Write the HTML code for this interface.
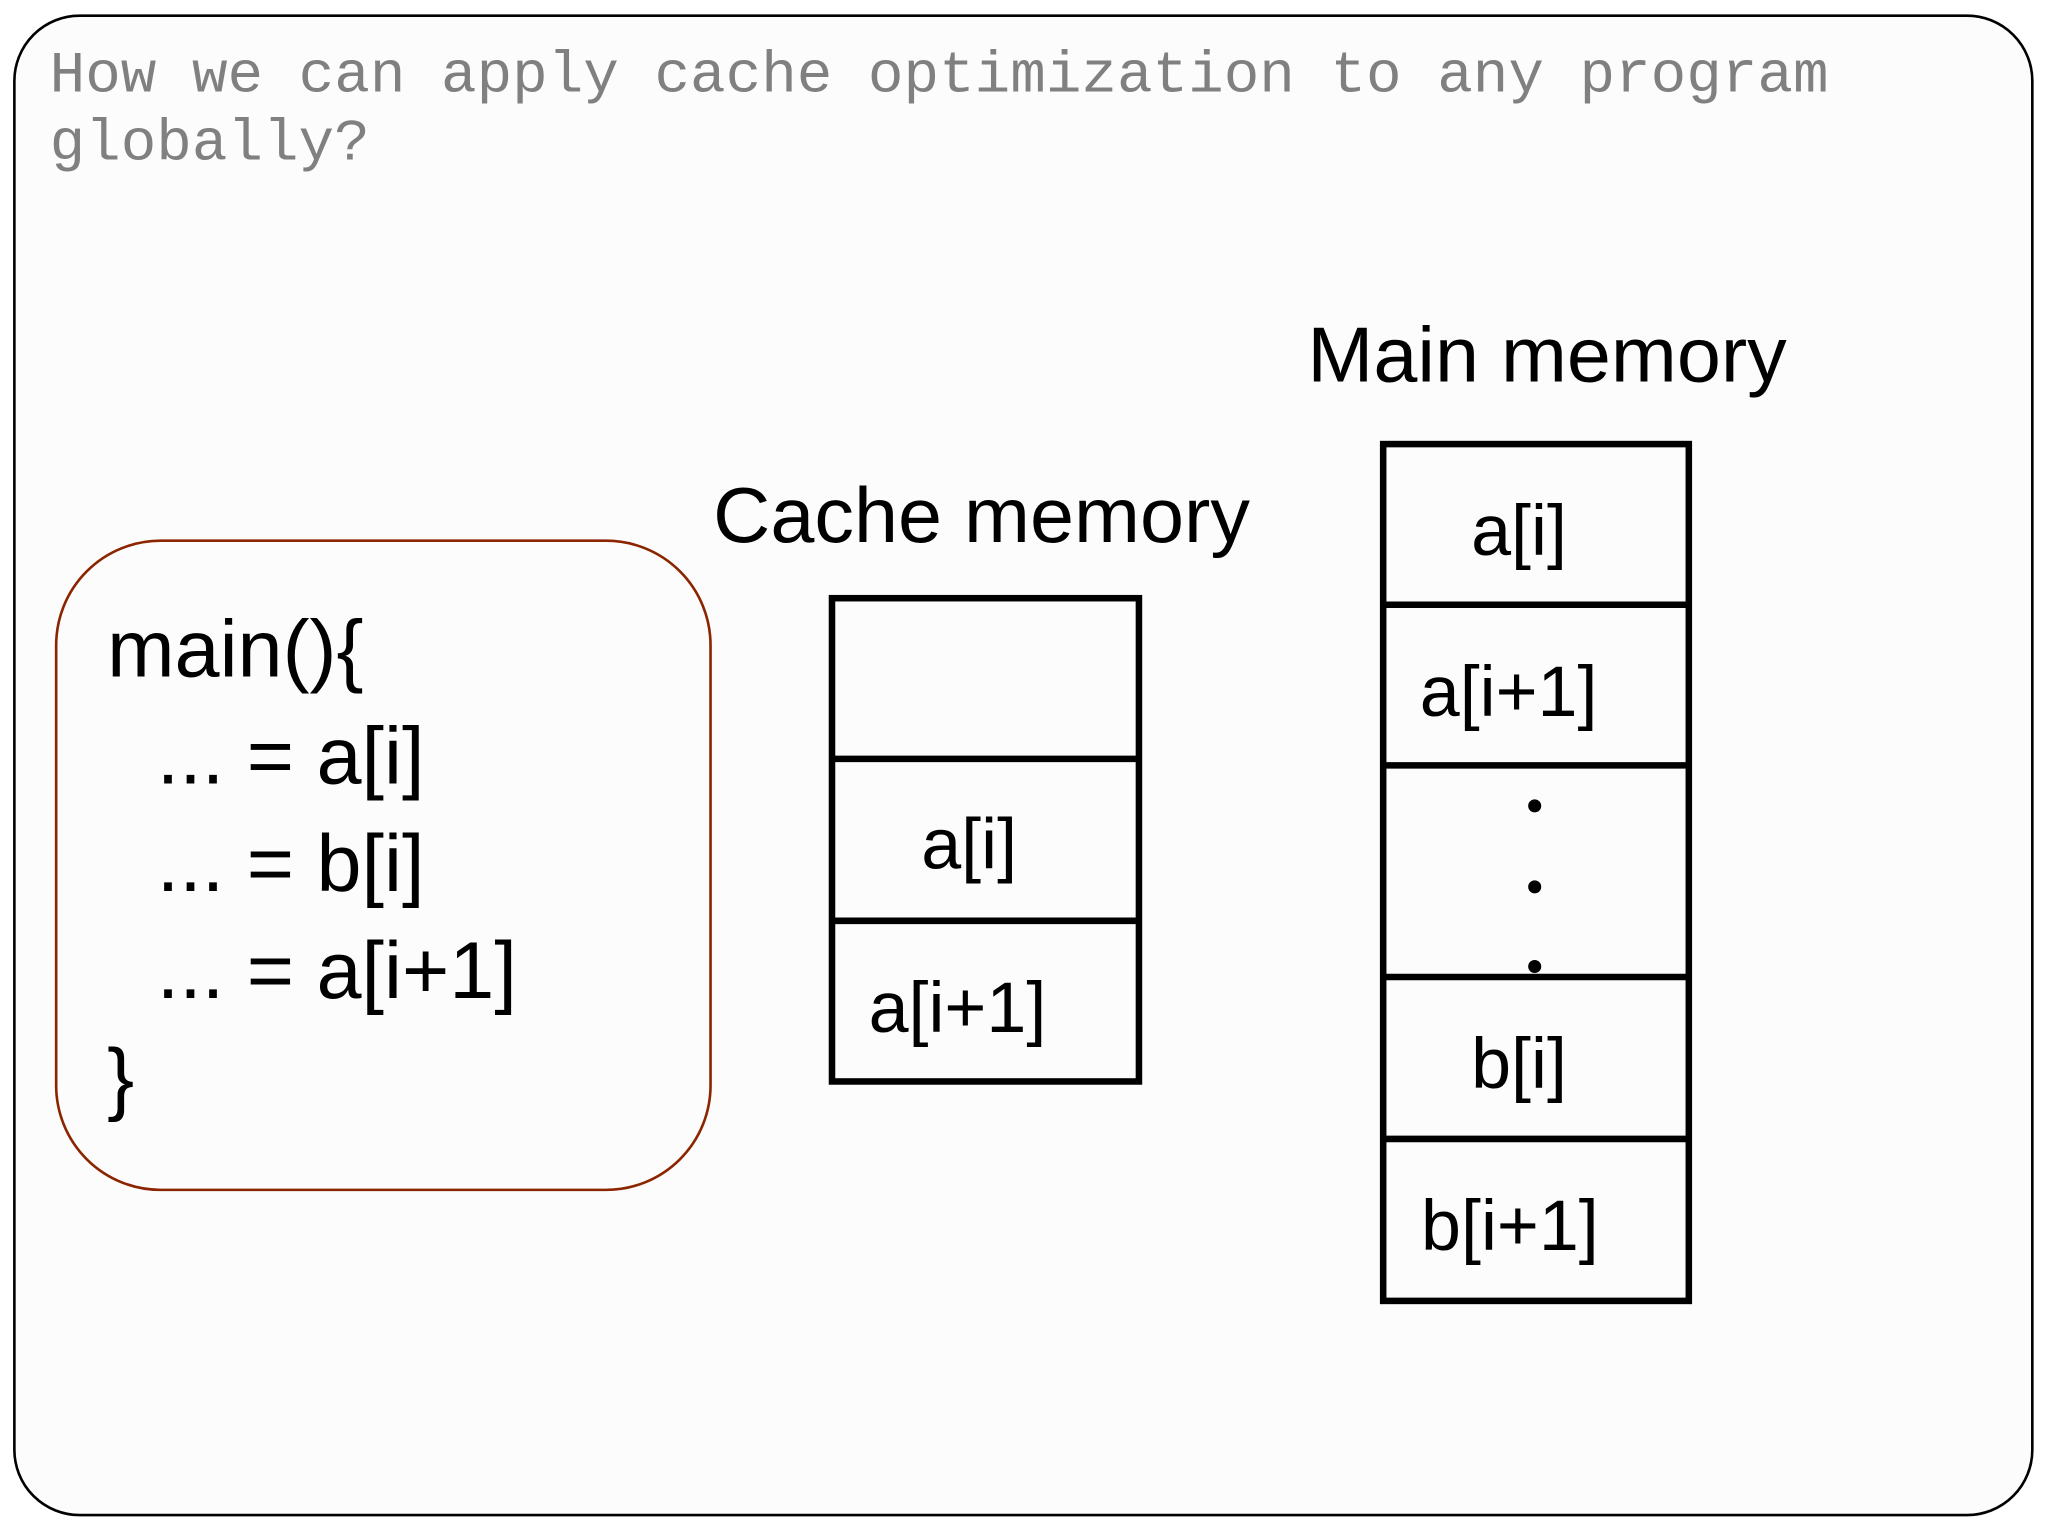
<!DOCTYPE html>
<html><head><style>html,body{margin:0;padding:0;background:#fff;}svg{display:block}</style></head>
<body>
<svg width="2048" height="1536" viewBox="0 0 1568 1176" preserveAspectRatio="none" xmlns="http://www.w3.org/2000/svg">
<rect x="0" y="0" width="1568" height="1176" fill="#fff"/>
<rect x="11" y="12" width="1545" height="1148" rx="50" ry="50" fill="#fcfcfc" stroke="#000" stroke-width="2"/>
<g font-family="Liberation Mono, monospace" font-size="45" fill="#808080">
<text x="38" y="70" textLength="1362" lengthAdjust="spacingAndGlyphs">How we can apply cache optimization to any program</text>
<text x="38" y="122" textLength="245" lengthAdjust="spacingAndGlyphs">globally?</text>
</g>
<rect x="43" y="414" width="501" height="497" rx="80" ry="80" fill="none" stroke="#8B2500" stroke-width="2"/>
<g font-family="Liberation Sans, Arial, sans-serif" font-size="62" fill="#000">
<text x="82" y="518">main(){</text>
<text x="120" y="600">... = a[i]</text>
<text x="120" y="682">... = b[i]</text>
<text x="120" y="764">... = a[i+1]</text>
<text x="82" y="846">}</text>
</g>
<g font-family="Liberation Sans, Arial, sans-serif" font-size="60" fill="#000">
<text x="546" y="415" textLength="411" lengthAdjust="spacingAndGlyphs">Cache memory</text>
<text x="1001" y="292" textLength="367" lengthAdjust="spacingAndGlyphs">Main memory</text>
</g>
<g fill="none" stroke="#000" stroke-width="5">
<rect x="637" y="458" width="235" height="370"/>
<line x1="637" y1="581" x2="872" y2="581"/>
<line x1="637" y1="705" x2="872" y2="705"/>
<rect x="1059" y="340" width="234" height="656"/>
<line x1="1059" y1="463" x2="1293" y2="463"/>
<line x1="1059" y1="586" x2="1293" y2="586"/>
<line x1="1059" y1="748" x2="1293" y2="748"/>
<line x1="1059" y1="872" x2="1293" y2="872"/>
</g>
<g font-family="Liberation Sans, Arial, sans-serif" font-size="55" fill="#000">
<text x="742" y="665" text-anchor="middle">a[i]</text>
<text x="665" y="790">a[i+1]</text>
<text x="1163" y="425" text-anchor="middle">a[i]</text>
<text x="1087" y="548">a[i+1]</text>
<text x="1163" y="833" text-anchor="middle">b[i]</text>
<text x="1088" y="957">b[i+1]</text>
</g>
<g fill="#000">
<circle cx="1175" cy="617" r="5"/>
<circle cx="1175" cy="679" r="5"/>
<circle cx="1175" cy="740" r="5"/>
</g>
</svg>
</body></html>
